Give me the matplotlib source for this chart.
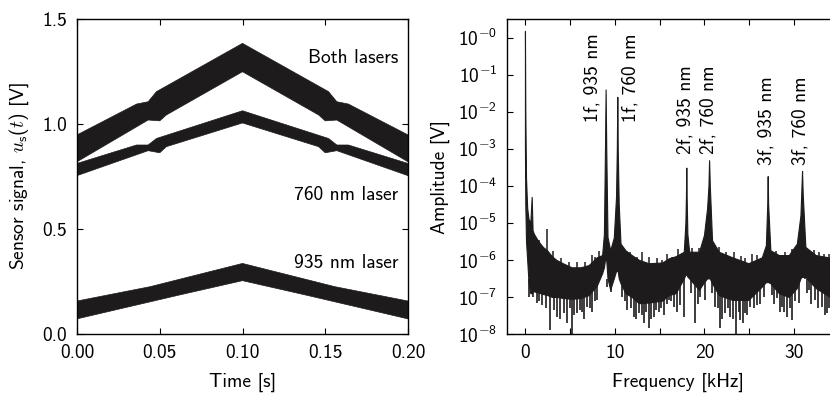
import numpy as np
import matplotlib
matplotlib.use("Agg")
import matplotlib.pyplot as plt

plt.rcParams['font.family'] = ['cmss10', 'DejaVu Sans']
plt.rcParams['font.size'] = 14
plt.rcParams['mathtext.fontset'] = 'custom'
plt.rcParams['mathtext.rm'] = 'cmss10'
plt.rcParams['mathtext.sf'] = 'cmss10'
plt.rcParams['mathtext.it'] = 'cmmi10'
plt.rcParams['mathtext.bf'] = 'cmss10'
plt.rcParams['axes.unicode_minus'] = False

INK = '#1e1b1c'

# ---- left panel: envelopes of the modulated ramps (time in s, signal in V)
both_t_hi = [0, 0.036, 0.043, 0.048, 0.1, 0.152, 0.157, 0.164, 0.2]
both_hi = [0.948, 1.095, 1.106, 1.154, 1.384, 1.154, 1.106, 1.095, 0.948]
both_t_lo = [0, 0.043, 0.050, 0.054, 0.1, 0.146, 0.150, 0.157, 0.2]
both_lo = [0.820, 1.019, 1.015, 1.043, 1.249, 1.043, 1.015, 1.019, 0.820]

l760_t_hi = [0, 0.036, 0.043, 0.048, 0.1, 0.152, 0.157, 0.164, 0.2]
l760_hi = [0.812, 0.900, 0.900, 0.931, 1.063, 0.931, 0.900, 0.900, 0.812]
l760_t_lo = [0, 0.043, 0.050, 0.054, 0.1, 0.146, 0.150, 0.157, 0.2]
l760_lo = [0.754, 0.873, 0.863, 0.892, 1.005, 0.892, 0.863, 0.873, 0.754]

l935_t_hi = [0, 0.044, 0.1, 0.156, 0.2]
l935_hi = [0.157, 0.225, 0.336, 0.225, 0.157]
l935_t_lo = [0, 0.062, 0.1, 0.138, 0.2]
l935_lo = [0.072, 0.186, 0.254, 0.186, 0.072]

band_labels = ['Both lasers', '760 nm laser', '935 nm laser']
band_label_y = [1.313, 0.662, 0.337]

# ---- right panel: spectrum envelope, log10 of amplitude in V, freq in kHz
spec_f = [0.00, 0.04, 0.12, 0.25, 0.40, 0.60, 0.75, 0.85, 1.0, 1.5, 2.0, 2.5,
          3.0, 3.5, 4.3, 5.2, 6.2, 7.1, 8.0, 8.6, 8.8, 8.92, 8.99, 9.06, 9.2,
          9.5, 9.9, 10.15, 10.24, 10.29, 10.34, 10.45, 10.65, 11.2, 11.9,
          12.7, 13.8, 15.3, 16.0, 16.8, 17.7, 17.88, 17.94, 17.98, 18.02,
          18.1, 18.3, 19.4, 19.95, 20.3, 20.45, 20.52, 20.6, 20.85, 21.6,
          23.1, 24.9, 26.4, 26.85, 27.0, 27.05, 27.1, 27.35, 28.3, 29.4,
          30.3, 30.7, 30.82, 30.88, 30.95, 31.25, 32.4, 34.5]
spec_hi = [0.18, -2.0, -3.8, -4.6, -4.9, -5.0, -4.3, -5.2, -5.3, -5.5, -5.65,
           -5.75, -5.9, -6.0, -6.1, -6.2, -6.2, -6.14, -5.93, -5.87, -5.3,
           -3.0, -1.40, -3.0, -5.38, -5.74, -5.4, -4.3, -3.0, -1.60, -3.0,
           -4.5, -5.56, -5.74, -5.87, -6.0, -6.09, -6.07, -5.96, -5.9, -5.78,
           -5.0, -4.3, -3.51, -4.3, -5.3, -5.78, -5.78, -5.33, -4.6, -4.0,
           -3.31, -4.0, -5.47, -5.78, -5.93, -6.09, -5.93, -5.6, -4.5, -3.74,
           -4.5, -5.74, -5.87, -5.87, -5.56, -4.8, -4.0, -3.60, -4.2, -5.65,
           -5.87, -5.96]
spec_lo = [-3.0, -4.5, -5.5, -6.0, -6.6, -6.9, -6.9, -6.85, -6.85, -6.88,
           -6.92, -6.95, -7.0, -7.0, -7.03, -7.05, -7.03, -6.95, -6.7, -6.36,
           -6.2, -6.0, -6.0, -6.0, -6.5, -6.8, -6.5, -6.3, -6.3, -6.3, -6.3,
           -6.5, -6.63, -6.9, -7.0, -7.17, -7.15, -7.1, -6.95, -6.9, -6.5,
           -6.4, -6.4, -6.4, -6.4, -6.45, -6.5, -6.81, -6.6, -6.5, -6.5, -6.5,
           -6.5, -6.63, -6.95, -7.08, -7.08, -6.72, -6.6, -6.6, -6.6, -6.6,
           -6.63, -6.9, -7.0, -6.76, -6.5, -6.46, -6.46, -6.46, -6.46, -6.76,
           -7.08]

# downward noise spikes (kHz, log10 V)
dip_f = [0.48, 0.9, 1.33, 1.6, 1.89, 2.4, 2.82, 3.2, 3.56, 3.9, 4.31, 4.68,
         5.0, 5.24, 5.5, 5.79, 6.1, 6.35, 6.6, 6.91, 7.2, 7.47, 7.8, 8.02,
         9.14, 9.62, 10.81, 11.1, 11.37, 11.8, 12.11, 12.4, 12.67, 13.0, 13.23,
         13.5, 13.78, 14.1, 14.34, 14.6, 14.9, 15.2, 15.46, 15.8, 16.01, 16.3,
         16.57, 16.9, 17.32, 17.68, 18.5, 19.0, 19.3, 19.54, 20.1, 20.9, 21.22,
         21.5, 21.78, 22.0, 22.33, 22.6, 22.89, 23.2, 23.52, 23.8, 24.0, 24.3,
         24.56, 24.8, 25.12, 25.5, 25.86, 26.2, 26.6, 27.53, 27.8, 28.09, 28.4,
         28.65, 28.9, 29.2, 29.5, 29.76, 30.1, 30.5, 31.4, 31.62, 31.9, 32.36,
         32.7, 33.11, 33.4, 33.67, 33.9]
dip_lo = [-7.0, -7.0, -7.17, -7.1, -7.22, -7.3, -7.89, -7.35, -7.53, -7.6,
          -7.44, -7.71, -7.3, -8.3, -7.5, -7.44, -7.35, -7.40, -7.6, -7.26,
          -7.3, -7.40, -7.1, -7.08, -6.72, -6.86, -6.99, -7.1, -7.35, -7.3,
          -7.53, -7.6, -7.44, -7.5, -7.71, -7.4, -7.85, -7.6, -7.53, -7.35,
          -7.40, -7.3, -7.49, -7.2, -7.08, -7.1, -7.26, -7.4, -7.22, -7.53,
          -6.9, -7.71, -7.2, -6.99, -7.08, -6.9, -7.26, -7.3, -7.85, -7.6,
          -7.44, -7.3, -7.53, -7.6, -8.3, -7.4, -7.62, -7.7, -7.44, -7.5,
          -7.26, -7.3, -7.22, -7.2, -6.99, -6.95, -7.2, -7.04, -7.4, -7.26,
          -7.4, -7.53, -7.3, -7.62, -7.1, -7.17, -6.9, -6.81, -7.2, -7.08,
          -7.3, -7.26, -7.5, -7.44, -7.3]

# upward noise spikes (kHz, log10 V)
bump_f = [1.52, 2.45, 3.1, 4.0, 4.9, 5.79, 6.72, 7.47, 7.84, 8.3, 10.81,
          11.74, 12.48, 13.04, 13.78, 14.71, 15.27, 15.8, 16.39, 17.1, 18.63,
          19.36, 21.59, 22.4, 23.26, 24.1, 24.56, 25.3, 25.86, 27.35, 28.0,
          29.02, 29.8, 31.25, 32.18, 32.8, 33.29, 33.9]
bump_hi = [-5.47, -5.16, -5.75, -5.95, -6.05, -6.05, -6.05, -5.87, -5.92,
           -5.75, -5.65, -5.78, -5.92, -5.78, -5.92, -5.96, -5.99, -5.85,
           -5.92, -5.7, -5.69, -5.69, -5.65, -5.8, -5.78, -5.9, -5.96, -5.85,
           -5.87, -5.60, -5.75, -5.78, -5.7, -5.55, -5.73, -5.8, -5.83, -5.85]

peak_labels = ['1f, 935 nm', '1f, 760 nm', '2f, 935 nm', '2f, 760 nm',
               '3f, 935 nm', '3f, 760 nm']
peak_label_f = [7.5, 11.8, 17.93, 20.49, 26.88, 30.67]
peak_label_y = [5.1e-3, 5.1e-3, 7.4e-4, 7.4e-4, 3.6e-4, 3.6e-4]

fig = plt.figure(figsize=(8.30, 3.97), dpi=100)
ax1 = fig.add_axes([77 / 830, 1 - 334 / 397, 331 / 830, 315 / 397])
ax2 = fig.add_axes([507 / 830, 1 - 334 / 397, 341 / 830, 315 / 397])

for th, yh, tl, yl in [(both_t_hi, both_hi, both_t_lo, both_lo),
                       (l760_t_hi, l760_hi, l760_t_lo, l760_lo),
                       (l935_t_hi, l935_hi, l935_t_lo, l935_lo)]:
    ax1.fill(np.r_[th, tl[::-1]], np.r_[yh, yl[::-1]], color=INK, lw=0.5)

for lab, y in zip(band_labels, band_label_y):
    ax1.text(0.194, y, lab, ha='right', va='center')

ax1.set_xlim(0, 0.2)
ax1.set_ylim(0, 1.5)
ax1.set_xticks([0, 0.05, 0.1, 0.15, 0.2])
ax1.set_xticklabels(['0.00', '0.05', '0.10', '0.15', '0.20'])
ax1.set_yticks([0, 0.5, 1.0, 1.5])
ax1.set_yticklabels(['0.0', '0.5', '1.0', '1.5'])
ax1.set_xlabel('Time [s]', labelpad=8)
ax1.set_ylabel(r'Sensor signal, $u_\mathrm{s}(t)$ [V]', labelpad=8)

f = np.array(spec_f)
ax2.fill_between(f, 10.0 ** np.array(spec_lo), 10.0 ** np.array(spec_hi),
                 color=INK, lw=0.8)
ax2.vlines(dip_f, 10.0 ** np.array(dip_lo), 3e-7, color=INK, lw=1.2)
ax2.vlines(bump_f, 3e-7, 10.0 ** np.array(bump_hi), color=INK, lw=1.1)

for lab, x, y in zip(peak_labels, peak_label_f, peak_label_y):
    ax2.text(x, y, lab, rotation=90, ha='center', va='bottom')

ax2.set_yscale('log')
ax2.set_xlim(-2, 36)
ax2.set_ylim(1e-8, 10 ** 0.5)
ax2.set_xticks([0, 10, 20, 30])
decades = np.arange(-8, 1)
ax2.set_yticks(10.0 ** decades)
ax2.set_yticklabels([r'$10^{-%d}$' % (-d) for d in decades])
ax2.minorticks_off()
ax2.set_xticks([5, 15, 25, 35], minor=True)
ax2.set_xlabel('Frequency [kHz]', labelpad=8)
ax2.set_ylabel('Amplitude [V]', labelpad=6)

for ax in (ax1, ax2):
    ax.tick_params(which='both', direction='in', top=True, right=True,
                   length=4, width=0.8, pad=7)
    for s in ax.spines.values():
        s.set_linewidth(1.0)

fig.savefig('out.png', dpi=100)
